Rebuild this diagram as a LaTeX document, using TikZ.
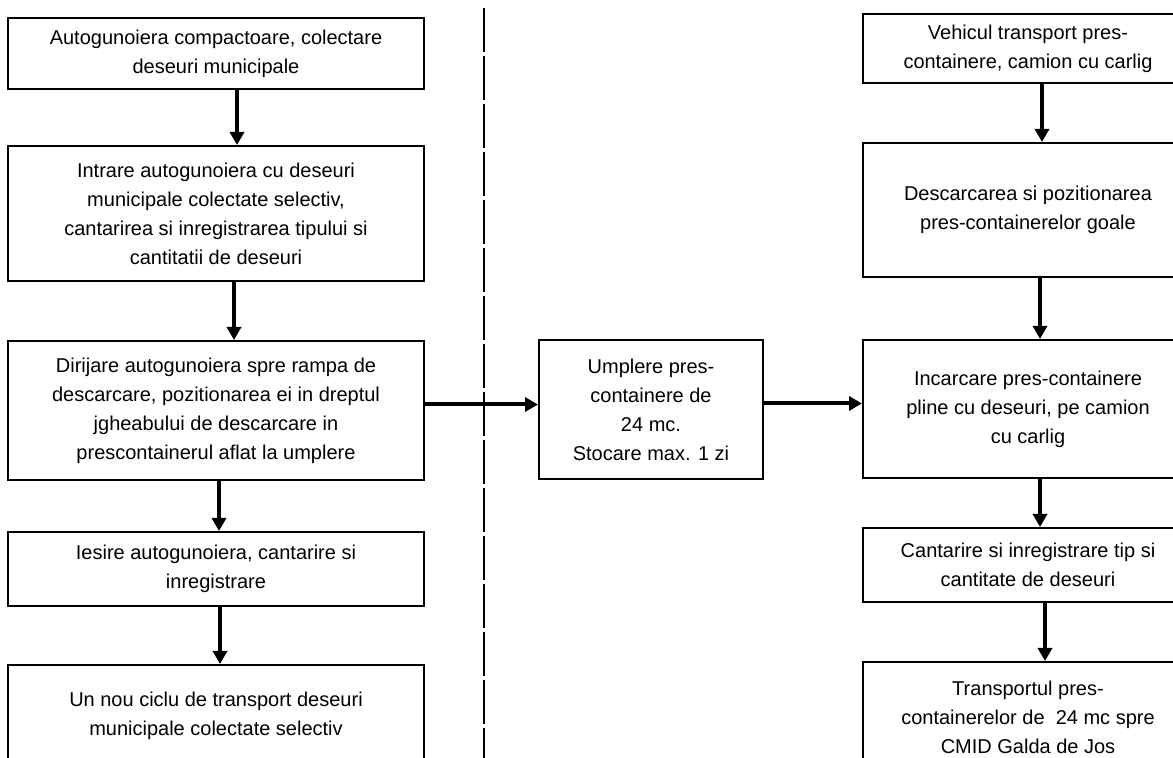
\documentclass[tikz,border=0pt]{standalone}
\usepackage{fontspec}
\setmainfont{Liberation Sans}
\usetikzlibrary{arrows.meta}

\begin{document}
\begin{tikzpicture}[x=0.5pt,y=-0.5pt,>={Triangle[length=6.5pt,width=7pt]}]
	\path[use as bounding box,fill=white] (0,0) rectangle (1173,758);
	\clip (0,0) rectangle (1173,758);

	% separator
	\draw[line width=0.8pt,dash pattern=on 22pt off 2pt] (484,8) -- (484,770);

	\begin{scope}[every node/.style={rectangle,draw,line width=1pt,align=center,font=\fontsize{10}{14.5}\selectfont}]
		\node[minimum width=208pt,minimum height=35.5pt] (l1) at (216,53.5) {Autogunoiera compactoare, colectare\\deseuri municipale};
		\node[minimum width=208pt,minimum height=67.5pt] (l2) at (216,213.5) {Intrare autogunoiera cu deseuri\\municipale colectate selectiv,\\cantarirea si inregistrarea tipului si\\cantitatii de deseuri};
		\node[minimum width=208pt,minimum height=69.5pt] (l3) at (216,410.5) {Dirijare autogunoiera spre rampa de\\descarcare, pozitionarea ei in dreptul\\jgheabului de descarcare in\\prescontainerul aflat la umplere};
		\node[minimum width=208pt,minimum height=37pt] (l4) at (216,569) {Iesire autogunoiera, cantarire si\\inregistrare};
		\node[minimum width=208pt,minimum height=51pt] (l5) at (216,716) {Un nou ciclu de transport deseuri\\municipale colectate selectiv};

		\node[minimum width=112pt,minimum height=69.5pt] (mid) at (651,409.5) {Umplere pres-\\containere de\\24 mc.\\Stocare max. 1 zi};

		\node[minimum width=165pt,minimum height=34.5pt] (r1) at (1028,48.5) {Vehicul transport pres-\\containere, camion cu carlig};
		\node[minimum width=165pt,minimum height=67pt] (r2) at (1028,210) {Descarcarea si pozitionarea\\pres-containerelor goale};
		\node[minimum width=165pt,minimum height=69pt] (r3) at (1028,409) {Incarcare pres-containere\\pline cu deseuri, pe camion\\cu carlig};
		\node[minimum width=165pt,minimum height=37pt] (r4) at (1028,565) {Cantarire si inregistrare tip si\\cantitate de deseuri};
		\node[minimum width=165pt,minimum height=55pt] (r5) at (1028,717) {Transportul pres-\\containerelor de~~24 mc spre\\CMID Galda de Jos};
	\end{scope}

	\begin{scope}[every edge/.style={draw=black,line width=2pt}]
		\path [->] ([xshift=10.5pt]l1.south) edge ([xshift=10.5pt]l2.north);
		\path [->] ([xshift=9pt]l2.south) edge ([xshift=9pt]l3.north);
		\path [->] ([xshift=1.5pt]l3.south) edge ([xshift=1.5pt]l4.north);
		\path [->] ([xshift=2pt]l4.south) edge ([xshift=2pt]l5.north);
		\path [->] ([yshift=2.5pt]mid.west -| l3.east) edge ([yshift=2.5pt]mid.west);
		\path [->] ([yshift=3pt]mid.east) edge ([yshift=3pt]mid.east -| r3.west);
		\path [->] ([xshift=7pt]r1.south) edge ([xshift=7pt]r2.north);
		\path [->] ([xshift=6pt]r2.south) edge ([xshift=6pt]r3.north);
		\path [->] ([xshift=6pt]r3.south) edge ([xshift=6pt]r4.north);
		\path [->] ([xshift=8.5pt]r4.south) edge ([xshift=8.5pt]r5.north);
	\end{scope}
\end{tikzpicture}
\end{document}
